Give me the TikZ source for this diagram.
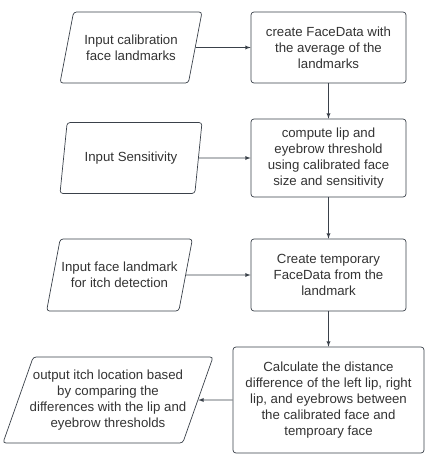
\documentclass[tikz,border=0pt]{standalone}
\usepackage{fontspec}
\setmainfont{Liberation Sans}
\usetikzlibrary{shapes.geometric}
\definecolor{linegray}{HTML}{3A414A}
\definecolor{textgray}{HTML}{333333}
\begin{document}
\begin{tikzpicture}[x=0.03cm,y=-0.03cm]
    \tikzstyle{every node}=[font=\fontsize{11.3}{13.5}\selectfont,text=textgray,align=center,inner sep=1pt]
    \tikzstyle{procbox}=[draw=linegray,line width=0.6pt,rounded corners=2.5pt]
    \tikzstyle{iobox}=[draw=linegray,line width=0.6pt,trapezium,trapezium left angle=64,trapezium right angle=116,trapezium stretches body=true,rounded corners=2.5pt]
    \tikzstyle{flow}=[draw=linegray,line width=0.6pt,-latex]
    \useasboundingbox (0,0) rectangle (436,466);
    \draw (131,47.5) node[iobox,minimum width=4.26cm,minimum height=2.13cm] (1) {Input calibration\\face landmarks};
    \draw (328.5,47.5) node[procbox,minimum width=4.65cm,minimum height=2.13cm] (2) {create FaceData with\\the average of the\\landmarks};
    \draw (131,158) node[iobox,minimum width=4.26cm,minimum height=2.13cm] (3) {Input Sensitivity};
    \draw (328.5,158) node[procbox,minimum width=4.65cm,minimum height=2.34cm] (4) {compute lip and\\eyebrow threshold\\using calibrated face\\size and sensitivity};
    \draw (119.5,275) node[iobox,minimum width=4.29cm,minimum height=2.16cm] (5) {Input face landmark\\for itch detection};
    \draw (328.5,275) node[procbox,minimum width=4.65cm,minimum height=2.16cm] (6) {Create temporary\\FaceData from the\\landmark};
    \draw (108,400) node[iobox,inner xsep=-3pt,minimum width=5.7cm,minimum height=2.58cm] (7) {output itch location based\\by comparing the\\differences with the lip and\\eyebrow thresholds};
    \draw (328.5,400) node[procbox,minimum width=5.73cm,minimum height=3.18cm] (8) {Calculate the distance\\difference of the left lip, right\\lip, and eyebrows between\\the calibrated face and\\temproary face};
    \draw[flow] (1.east) -- (2.west);
    \draw[flow] (2) -- (4);
    \draw[flow] (3.east) -- (4.west);
    \draw[flow] (4) -- (6);
    \draw[flow] (5.east) -- (6.west);
    \draw[flow] (6) -- (8);
    \draw[flow] (8.west) -- (7.east);
\end{tikzpicture}
\end{document}
